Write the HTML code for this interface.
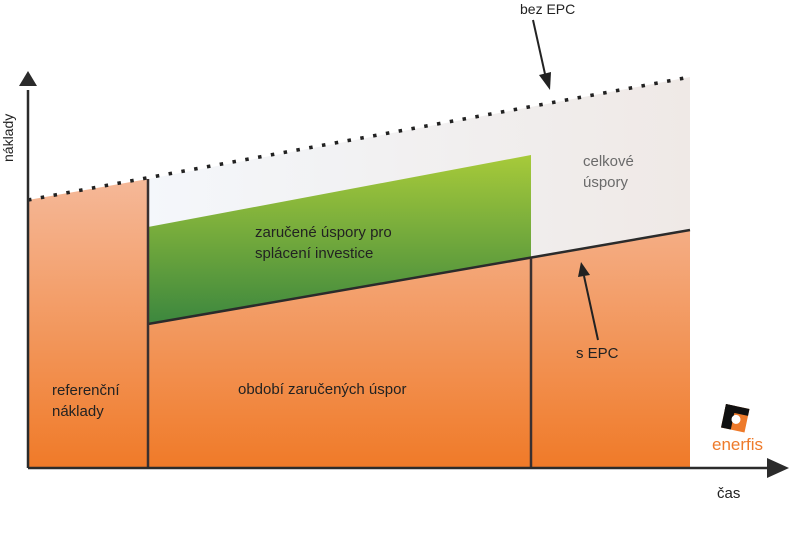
<!DOCTYPE html>
<html><head><meta charset="utf-8"><style>html,body{margin:0;padding:0;background:#fff}svg{display:block}text{font-family:"Liberation Sans",sans-serif;fill:#222}</style></head><body>
<svg width="789" height="551" viewBox="0 0 789 551" xmlns="http://www.w3.org/2000/svg">
<defs>
<linearGradient id="or2" x1="0" y1="180" x2="0" y2="468" gradientUnits="userSpaceOnUse"><stop offset="0" stop-color="#f5b898"/><stop offset="1" stop-color="#f07a28"/></linearGradient>
<linearGradient id="gr" x1="0" y1="155" x2="0" y2="324" gradientUnits="userSpaceOnUse"><stop offset="0" stop-color="#a7ca3a"/><stop offset="1" stop-color="#3c873e"/></linearGradient>
<linearGradient id="lt" x1="0" y1="0" x2="1" y2="0"><stop offset="0" stop-color="#f4f7fb"/><stop offset="1" stop-color="#efe9e6"/></linearGradient>
</defs>
<polygon points="148,179 690,77 690,230 148,324" fill="url(#lt)"/>
<polygon points="28,200 148,179 148,468 28,468" fill="url(#or2)"/>
<polygon points="148,324 531,258 690,230 690,468 148,468" fill="url(#or2)"/>
<polygon points="148,227 531,155 531,258 148,324" fill="url(#gr)"/>
<line x1="28" y1="200" x2="690" y2="77" stroke="#222" stroke-width="3.5" stroke-dasharray="3.5 9.5"/>
<line x1="148" y1="324" x2="690" y2="230" stroke="#2b2b2b" stroke-width="2.5"/>
<line x1="148" y1="179" x2="148" y2="468" stroke="#3a3030" stroke-width="2.5"/>
<line x1="531" y1="258" x2="531" y2="468" stroke="#3a3030" stroke-width="2.5"/>
<line x1="28" y1="468" x2="770" y2="468" stroke="#2b2b2b" stroke-width="2.5"/>
<polygon points="789,468 767,458 767,478" fill="#2b2b2b"/>
<line x1="28" y1="468" x2="28" y2="90" stroke="#2b2b2b" stroke-width="2.5"/>
<polygon points="28,71 19,86 37,86" fill="#2b2b2b"/>
<line x1="533" y1="20" x2="545" y2="74" stroke="#222" stroke-width="2"/>
<polygon points="550,90 539,75 551,72" fill="#222"/>
<line x1="598" y1="340" x2="584" y2="276" stroke="#222" stroke-width="2"/>
<polygon points="581,262 578,277 590,275" fill="#222"/>
<text x="520" y="14" font-size="14">bez EPC</text>
<text x="576" y="358" font-size="15">s EPC</text>
<text x="583" y="166" font-size="15" style="fill:#6a6a6a">celkové</text>
<text x="583" y="187" font-size="15" style="fill:#6a6a6a">úspory</text>
<text x="255" y="237" font-size="15">zaručené úspory pro</text>
<text x="255" y="258" font-size="15">splácení investice</text>
<text x="52" y="395" font-size="15">referenční</text>
<text x="52" y="416" font-size="15">náklady</text>
<text x="238" y="394" font-size="15">období zaručených úspor</text>
<text x="717" y="498" font-size="15">čas</text>
<text transform="translate(13,162) rotate(-90)" font-size="14">náklady</text>
<g transform="translate(726,404) rotate(12)"><rect x="0" y="0" width="24" height="24" fill="#ee7a2a"/><rect x="0" y="0" width="10" height="24" fill="#111"/><rect x="0" y="0" width="24" height="7" fill="#111"/><circle cx="13" cy="13" r="4.5" fill="#fff"/></g>
<text x="712" y="450" font-size="17" style="fill:#ee7a2a">enerfis</text>
</svg>
</body></html>
